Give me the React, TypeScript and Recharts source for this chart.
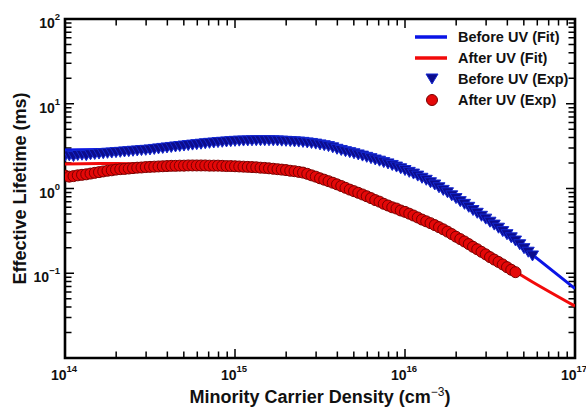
import React from 'react';
import { ComposedChart, Line, Scatter, XAxis, YAxis, Legend, ReferenceArea, ReferenceLine } from 'recharts';

// log10 of minority carrier density (cm^-3) for the measured points
const expLogDensity = [
  14.000, 14.025, 14.050, 14.075, 14.100, 14.125, 14.150, 14.175, 14.200, 14.225,
  14.250, 14.275, 14.300, 14.325, 14.350, 14.375, 14.400, 14.425, 14.450, 14.475,
  14.500, 14.525, 14.550, 14.575, 14.600, 14.625, 14.650, 14.675, 14.700, 14.725,
  14.750, 14.775, 14.800, 14.825, 14.850, 14.875, 14.900, 14.925, 14.950, 14.975,
  15.000, 15.025, 15.050, 15.075, 15.100, 15.125, 15.150, 15.175, 15.200, 15.225,
  15.250, 15.275, 15.300, 15.325, 15.350, 15.375, 15.400, 15.425, 15.450, 15.475,
  15.500, 15.525, 15.550, 15.575, 15.600, 15.625, 15.650, 15.675, 15.700, 15.725,
  15.750, 15.775, 15.800, 15.825, 15.850, 15.875, 15.900, 15.925, 15.950, 15.975,
  16.000, 16.025, 16.050, 16.075, 16.100, 16.125, 16.150, 16.175, 16.200, 16.225,
  16.250, 16.275, 16.300, 16.325, 16.350, 16.375, 16.400, 16.425, 16.450, 16.475,
  16.500, 16.525, 16.550, 16.575, 16.600, 16.625, 16.650, 16.675, 16.700, 16.725,
  16.750,
];

// effective lifetime (ms), before UV, measured
const beforeExpTau = [
  2.40, 2.43, 2.38, 2.45, 2.47, 2.44, 2.50, 2.52, 2.55, 2.57,
  2.60, 2.62, 2.65, 2.67, 2.70, 2.72, 2.75, 2.77, 2.80, 2.82,
  2.85, 2.89, 2.93, 2.97, 3.01, 3.05, 3.09, 3.13, 3.17, 3.21,
  3.25, 3.29, 3.33, 3.37, 3.41, 3.44, 3.48, 3.51, 3.54, 3.57,
  3.60, 3.62, 3.63, 3.64, 3.65, 3.66, 3.66, 3.66, 3.66, 3.65,
  3.64, 3.62, 3.60, 3.58, 3.55, 3.53, 3.50, 3.45, 3.40, 3.34,
  3.27, 3.20, 3.12, 3.02, 2.90, 2.81, 2.72, 2.65, 2.57, 2.49,
  2.41, 2.33, 2.25, 2.17, 2.10, 2.02, 1.95, 1.87, 1.79, 1.71,
  1.63, 1.55, 1.48, 1.40, 1.32, 1.25, 1.17, 1.10, 1.02, 0.95,
  0.89, 0.82, 0.76, 0.70, 0.65, 0.60, 0.55, 0.51, 0.47, 0.435,
  0.40, 0.37, 0.34, 0.31, 0.285, 0.262, 0.24, 0.217, 0.195, 0.177,
  0.16,
];

// effective lifetime (ms), after UV, measured
const afterExpTau = [
  1.42, 1.38, 1.40, 1.43, 1.45, 1.47, 1.50, 1.53, 1.56, 1.59,
  1.62, 1.64, 1.67, 1.69, 1.70, 1.72, 1.74, 1.76, 1.77, 1.79,
  1.80, 1.81, 1.82, 1.83, 1.84, 1.85, 1.85, 1.86, 1.86, 1.87,
  1.87, 1.87, 1.87, 1.87, 1.86, 1.86, 1.86, 1.85, 1.84, 1.84,
  1.83, 1.82, 1.81, 1.80, 1.79, 1.78, 1.76, 1.75, 1.73, 1.71,
  1.69, 1.67, 1.65, 1.62, 1.60, 1.57, 1.54, 1.49, 1.43, 1.38,
  1.32, 1.27, 1.22, 1.17, 1.12, 1.07, 1.02, 0.97, 0.93, 0.89,
  0.85, 0.81, 0.77, 0.73, 0.70, 0.66, 0.63, 0.60, 0.58, 0.55,
  0.53, 0.505, 0.48, 0.455, 0.43, 0.41, 0.39, 0.37, 0.35, 0.33,
  0.31, 0.29, 0.27, 0.253, 0.237, 0.221, 0.205, 0.192, 0.179, 0.167,
  0.155, 0.145, 0.136, 0.127, 0.118, 0.110, 0.103,
];

// fitted curves
const fitLogDensity = [14.0, 14.25, 14.5, 14.75, 15.0, 15.25, 15.5, 15.75, 16.0, 16.25, 16.5, 16.75, 17.0];
const beforeFitTau = [2.85, 2.90, 3.05, 3.35, 3.68, 3.72, 3.35, 2.50, 1.70, 0.93, 0.42, 0.165, 0.066];
const afterFitTau = [1.95, 1.97, 1.95, 1.90, 1.83, 1.68, 1.32, 0.86, 0.53, 0.31, 0.16, 0.079, 0.041];

const xTicks = [
  1e14, 2e14, 3e14, 4e14, 5e14, 6e14, 7e14, 8e14, 9e14,
  1e15, 2e15, 3e15, 4e15, 5e15, 6e15, 7e15, 8e15, 9e15,
  1e16, 2e16, 3e16, 4e16, 5e16, 6e16, 7e16, 8e16, 9e16,
  1e17,
];
const yTicks = [
  0.01, 0.02, 0.03, 0.04, 0.05, 0.06, 0.07, 0.08, 0.09,
  0.1, 0.2, 0.3, 0.4, 0.5, 0.6, 0.7, 0.8, 0.9,
  1, 2, 3, 4, 5, 6, 7, 8, 9,
  10, 20, 30, 40, 50, 60, 70, 80, 90,
  100,
];
const yLabeled = [0.1, 1, 10, 100];
const X_MIN = 1e14;
const X_MAX = 1e17;
const Y_MIN = 0.01;
const Y_MAX = 100;

const legendLabels = ['Before UV (Fit)', 'After UV (Fit)', 'Before UV (Exp)', 'After UV (Exp)'];
const xTitle = 'Minority Carrier Density (cm';
const xTitleSup = '\u22123';
const yTitle = 'Effective Lifetime (ms)';

const BLUE_LINE = '#0a14e6';
const RED_LINE = '#f20a0a';
const BLUE_FILL = '#0c0c8c';
const BLUE_EDGE = '#1428d2';
const RED_FILL = '#e40808';
const RED_EDGE = '#7a0000';
const FONT = '"Liberation Sans", Arial, sans-serif';

const beforeExp = expLogDensity.map((e, i) => ({ n: Math.pow(10, e), t: beforeExpTau[i] }));
const afterExp = afterExpTau.map((t, i) => ({ n: Math.pow(10, expLogDensity[i]), t }));
const beforeFit = fitLogDensity.map((e, i) => ({ n: Math.pow(10, e), t: beforeFitTau[i] }));
const afterFit = fitLogDensity.map((e, i) => ({ n: Math.pow(10, e), t: afterFitTau[i] }));

const expOf = (v: number) => Math.round(Math.log10(v));
const isMajor = (v: number) => Math.abs(Math.log10(v) - Math.round(Math.log10(v))) < 1e-6;
const near = (a: number, b: number) => Math.abs(a - b) / b < 1e-6;

const PowLabel = ({ x, y, exp, anchor }: any) => (
  <text x={x} y={y} textAnchor={anchor} fontFamily={FONT} fontWeight="bold" fontSize={14} fill="#111">
    10
    <tspan dy={-8} fontSize={9.5}>{exp < 0 ? '\u2212' + Math.abs(exp) : String(exp)}</tspan>
  </text>
);

const TICK_W = 1.5;
const MAJOR_LEN = 9;
const MINOR_LEN = 6.5;

const XTickLabel = (props: any) => {
  const { x, y, payload } = props;
  const v = payload.value;
  if (!isMajor(v)) return <g />;
  return <PowLabel x={x - 1} y={y + 22} exp={expOf(v)} anchor="middle" />;
};

const YTickLabel = (props: any) => {
  const { x, y, payload } = props;
  const v = payload.value;
  const labeled = yLabeled.some((l) => near(v, l));
  if (!labeled) return <g />;
  return <PowLabel x={x - 5} y={y + 9} exp={expOf(v)} anchor="end" />;
};

// pixel rows of the horizontal reference lines, filled as they are drawn
const rowPix: Record<string, number> = {};

// inward x ticks along the bottom (yb) and top (yt) edges of the frame
const xTickPath = (xl: number, xr: number, yb: number, yt: number) => {
  const l0 = Math.log10(X_MIN);
  const l1 = Math.log10(X_MAX);
  let d = '';
  xTicks.forEach((t) => {
    const px = xl + ((Math.log10(t) - l0) / (l1 - l0)) * (xr - xl);
    const tl = isMajor(t) ? MAJOR_LEN : MINOR_LEN;
    d += `M${px},${yb}L${px},${yb - tl}M${px},${yt}L${px},${yt + tl}`;
  });
  return d;
};

// inward ticks at both ends of a horizontal reference line (left / right axes);
// the last one (90) also draws the x ticks on the bottom and top edges
const makeHTick = (v: number) => (p: any) => {
  const len = isMajor(v) ? MAJOR_LEN : MINOR_LEN;
  const y = Number(p.y1);
  const xl = Math.min(Number(p.x1), Number(p.x2));
  const xr = Math.max(Number(p.x1), Number(p.x2));
  rowPix[String(v)] = y;
  let d = `M${xl},${y}H${xl + len}M${xr},${y}H${xr - len}`;
  if (near(v, 90)) {
    const y002 = rowPix['0.02'];
    const y02 = rowPix['0.2'];
    const ppd = y002 - y02;
    if (isFinite(ppd) && ppd > 10) {
      const yb = y002 + Math.log10(0.02 / Y_MIN) * ppd;
      const yt = y - Math.log10(Y_MAX / 90) * ppd;
      if (isFinite(yb) && isFinite(yt)) d += xTickPath(xl, xr, yb, yt);
    }
  }
  return <path d={d} stroke="#000" strokeWidth={TICK_W} fill="none" />;
};

const TriDown = (p: any) => {
  const { cx, cy } = p;
  if (cx == null || cy == null) return null;
  return (
    <path
      d={`M${cx - 6},${cy - 5}L${cx + 6},${cy - 5}L${cx},${cy + 5}Z`}
      fill={BLUE_FILL}
      stroke={BLUE_EDGE}
      strokeWidth={1}
    />
  );
};

const Dot = (p: any) => {
  const { cx, cy } = p;
  if (cx == null || cy == null) return null;
  return <circle cx={cx} cy={cy} r={5.5} fill={RED_FILL} stroke={RED_EDGE} strokeWidth={1} />;
};

const LegendBox = () => {
  const rowY = [12, 33, 54, 75];
  return (
    <svg width={180} height={90} style={{ display: 'block' }}>
      <path d={`M10,${rowY[0]}H42`} stroke={BLUE_LINE} strokeWidth={3.5} />
      <path d={`M10,${rowY[1]}H42`} stroke={RED_LINE} strokeWidth={3.5} />
      <TriDown cx={27} cy={rowY[2]} />
      <Dot cx={27} cy={rowY[3]} />
      {legendLabels.map((l, i) => (
        <text key={l} x={53} y={rowY[i] + 5} fontFamily={FONT} fontWeight="bold" fontSize={14.5} fill="#111">
          {l}
        </text>
      ))}
    </svg>
  );
};

const XTitle = (p: any) => {
  const vb = p.viewBox || {};
  const cx = (vb.x ?? 0) + (vb.width ?? 0) / 2;
  const by = (vb.y ?? 0) + 45;
  return (
    <text x={cx} y={by} textAnchor="middle" fontFamily={FONT} fontWeight="bold" fontSize={18} fill="#111">
      {xTitle}
      <tspan dy={-7} fontSize={12} fontWeight="normal">{xTitleSup}</tspan>
      <tspan dy={7}>)</tspan>
    </text>
  );
};

const YTitle = (p: any) => {
  const vb = p.viewBox || {};
  const cx = (vb.x ?? 0) + 16;
  const cy = (vb.y ?? 0) + (vb.height ?? 0) / 2;
  return (
    <text
      transform={`translate(${cx},${cy}) rotate(-90)`}
      textAnchor="middle"
      fontFamily={FONT}
      fontWeight="bold"
      fontSize={18}
      fill="#111"
    >
      {yTitle}
    </text>
  );
};

export default function App() {
  return (
    <div style={{ position: 'absolute', left: 0, top: 0, width: 586, height: 408, background: '#fff' }}>
      <ComposedChart width={586} height={408} margin={{ top: 19, right: 11, left: 10, bottom: 0 }}>
        <XAxis
          xAxisId="b"
          dataKey="n"
          type="number"
          scale="log"
          domain={[X_MIN, X_MAX]}
          allowDataOverflow
          ticks={xTicks}
          interval={0}
          tick={<XTickLabel />}
          tickLine={false}
          tickSize={0}
          tickMargin={0}
          axisLine={false}
          height={50}
          label={<XTitle />}
        />
        <YAxis
          yAxisId="l"
          dataKey="t"
          type="number"
          scale="log"
          domain={[Y_MIN, Y_MAX]}
          allowDataOverflow
          ticks={yTicks}
          interval={0}
          tick={<YTickLabel />}
          tickLine={false}
          tickSize={0}
          tickMargin={0}
          axisLine={false}
          width={55}
          label={<YTitle />}
        />
        {yTicks.map((v) => (
          <ReferenceLine
            key={'hy' + v}
            xAxisId="b"
            yAxisId="l"
            y={v}
            ifOverflow="visible"
            stroke="#000"
            shape={makeHTick(v)}
          />
        ))}
        <Line
          data={beforeFit}
          xAxisId="b"
          yAxisId="l"
          dataKey="t"
          type="monotone"
          stroke={BLUE_LINE}
          strokeWidth={3}
          dot={false}
          isAnimationActive={false}
          name="Before UV (Fit)"
        />
        <Line
          data={afterFit}
          xAxisId="b"
          yAxisId="l"
          dataKey="t"
          type="monotone"
          stroke={RED_LINE}
          strokeWidth={3}
          dot={false}
          isAnimationActive={false}
          name="After UV (Fit)"
        />
        <Scatter
          data={beforeExp}
          xAxisId="b"
          yAxisId="l"
          dataKey="t"
          shape={TriDown}
          isAnimationActive={false}
          name="Before UV (Exp)"
        />
        <Scatter
          data={afterExp}
          xAxisId="b"
          yAxisId="l"
          dataKey="t"
          shape={Dot}
          isAnimationActive={false}
          name="After UV (Exp)"
        />
        <ReferenceArea
          xAxisId="b"
          yAxisId="l"
          x1={X_MIN}
          x2={X_MAX}
          y1={Y_MIN}
          y2={Y_MAX}
          fill="none"
          fillOpacity={0}
          stroke="#000"
          strokeWidth={2.6}
          strokeOpacity={1}
          ifOverflow="visible"
        />
        <Legend
          layout="vertical"
          align="center"
          verticalAlign="middle"
          content={<LegendBox />}
          wrapperStyle={{ position: 'absolute', left: 405, top: 25, width: 180, height: 90 }}
        />
      </ComposedChart>
    </div>
  );
}
